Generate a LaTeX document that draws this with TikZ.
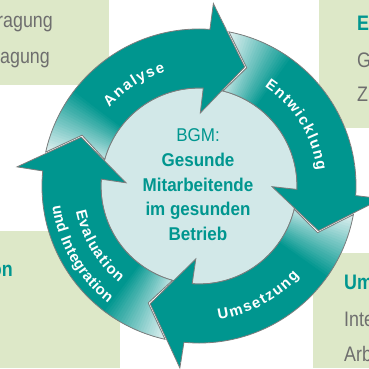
\documentclass[tikz,border=0pt]{standalone}
\usepackage{fontspec}
\setmainfont{Liberation Sans}
\newfontfamily\sidefont[FakeStretch=0.85]{Liberation Sans}
\newfontfamily\corefont[FakeStretch=0.92]{Liberation Sans}
\newfontfamily\bandfont{Liberation Sans}
\definecolor{band}{RGB}{0,150,143}
\definecolor{tailc}{RGB}{232,244,244}
\definecolor{corec}{RGB}{210,232,232}
\definecolor{boxg}{RGB}{221,232,200}
\definecolor{sidegray}{RGB}{110,110,110}
\definecolor{titlec}{RGB}{0,150,143}
\definecolor{edgec}{RGB}{125,125,125}
\newcommand{\lblfont}{\bandfont\bfseries\fontsize{15}{17}\selectfont}
\newcommand{\arrowpath}[2]{%
 (#2-8:157) arc[start angle=#2-8, end angle=#1-1, radius=157]
 -- (#1-1.5:183) -- (#1-18:127.5) -- (#1+2:73) -- (#1+0.5:98)
 arc[start angle=#1+0.5, end angle=#2-11.2, radius=98]
 -- (#2-19:127.5) -- cycle}
\newcommand{\bandarrow}[2]{%
  \begin{scope}
    \clip \arrowpath{#1}{#2};
    \fill[band] \arrowpath{#1}{#2};
    \foreach \i in {0,...,26}{
      \pgfmathtruncatemacro{\pc}{\i*100/26}
      \fill[band!\pc!tailc] (0,0) -- (#2-7-\i+0.4:200) -- (#2-8-\i-0.4:200) -- cycle;
    }
  \end{scope}
  \draw[edgec, line width=0.8pt] \arrowpath{#1}{#2};
}
% #1 name, #2 letter/width(em) list, #3 centre angle, #4 baseline radius, #5 sign (1 ccw, -1 cw), #6 letter gap
\newcommand{\arclabel}[6]{%
  \gdef\lbltotal{0}%
  \foreach \ch/\w in {#2}{\pgfmathparse{\lbltotal+\w*15+#6}\xdef\lbltotal{\pgfmathresult}}%
  \pgfmathparse{-0.5*(\lbltotal-#6)}\xdef\lblposn{\pgfmathresult}%
  \foreach \ch/\w [count=\k] in {#2}{%
    \pgfmathsetmacro{\ang}{#3 + #5*(\lblposn + 0.5*\w*15)/#4*180/pi}%
    \node[lblchar, rotate=\ang+#5*90] (#1\k) at (\ang:#4) {\ch};
    \pgfmathparse{\lblposn+\w*15+#6}\xdef\lblposn{\pgfmathresult}%
  }%
}
\tikzset{
  boxfill/.style={fill=boxg},
  sidetxt/.style={font=\sidefont\fontsize{21}{24}\selectfont, text=sidegray, inner sep=0pt},
  sidetitle/.style={font=\sidefont\bfseries\fontsize{21}{24}\selectfont, text=titlec, inner sep=0pt},
  lblchar/.style={anchor=base, inner sep=0pt, text=white, font=\lblfont}
}
\begin{document}
\begin{tikzpicture}[x=1pt,y=1pt]
\useasboundingbox (0,0) rectangle (369,368);
\fill[white] (0,0) rectangle (369,368);
% background boxes
\fill[boxfill] (0,283) rectangle (109,368);
\fill[boxfill] (319,240) rectangle (369,368);
\fill[boxfill] (0,0) rectangle (120,137);
\fill[boxfill] (313,0) rectangle (369,115);
% side texts
\node[sidetxt, anchor=base east] (tl1) at (53,341) {ragung};
\node[sidetxt, anchor=base east] (tl2) at (50,305) {agung};
\node[sidetitle, anchor=base west] (tr1) at (357,338) {E};
\node[sidetxt, anchor=base west] (tr2) at (357,301) {G};
\node[sidetxt, anchor=base west] (tr3) at (357,267) {Z};
\node[sidetitle, anchor=base east] (bl1) at (13,92) {on};
\node[sidetitle, anchor=base west] (br1) at (344,79) {Um};
\node[sidetxt, anchor=base west] (br2) at (344,42) {Inte};
\node[sidetxt, anchor=base west] (br3) at (344,7) {Arb};
% cycle
\begin{scope}[shift={(199,182)}]
  \fill[corec] (0,0) circle (98);
  \draw[edgec, line width=0.8pt] (0,0) circle (98);
  \bandarrow{87}{175.5}
  \bandarrow{-2.5}{87}
  \bandarrow{-94.5}{-2.5}
  \bandarrow{-184.5}{-94.5}
  \arclabel{an}{A/.722,n/.611,a/.556,l/.278,y/.556,s/.556,e/.556}{122.6}{119}{-1}{1.6}
  \arclabel{en}{E/.667,n/.611,t/.333,w/.778,i/.278,c/.556,k/.556,l/.278,u/.611,n/.611,g/.611}{32}{119}{-1}{1.4}
  \arclabel{um}{U/.722,m/.889,s/.556,e/.556,t/.333,z/.5,u/.611,n/.611,g/.611}{-61.8}{135}{1}{1.6}
  \arclabel{ev}{E/.667,v/.556,a/.556,l/.278,u/.611,a/.556,t/.333,i/.278,o/.611,n/.611}{211}{125.5}{1}{1.0}
  \arclabel{ui}{u/.611,n/.611,d/.611,{}/.278,I/.278,n/.611,t/.333,e/.556,g/.611,r/.389,a/.556,t/.333,i/.278,o/.611,n/.611}{210}{148}{1}{0.4}
\end{scope}
\node[font=\corefont\fontsize{18.5}{24.75}\selectfont, text=titlec, align=center, inner sep=0pt] (core) at (198,183.3)
  {BGM:\\\textbf{Gesunde}\\\textbf{Mitarbeitende}\\\textbf{im gesunden}\\\textbf{Betrieb}};
\end{tikzpicture}
\end{document}
